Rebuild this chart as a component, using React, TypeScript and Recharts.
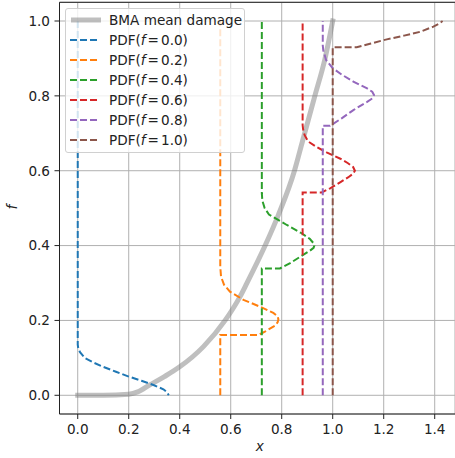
import React from 'react';
import { ComposedChart, Line, XAxis, YAxis, CartesianGrid, ReferenceLine, Label } from 'recharts';

// ---- data ----
const xTicks = [0, 0.2, 0.4, 0.6, 0.8, 1.0, 1.2, 1.4];
const yTicks = [0, 0.2, 0.4, 0.6, 0.8, 1.0];

const bmaX = [0, 0.1, 0.2, 0.235, 0.283, 0.34, 0.4, 0.493, 0.578, 0.636, 0.663, 0.735, 0.787, 0.85, 0.882, 0.93, 0.97, 1.0];
const bmaF = [0, 0, 0.003, 0.009, 0.028, 0.05, 0.076, 0.13, 0.2, 0.263, 0.299, 0.4, 0.482, 0.6, 0.68, 0.8, 0.9, 1.0];

const pdf00X = [0, 0, 0.002, 0.009, 0.029, 0.06, 0.1, 0.15, 0.2, 0.25, 0.297, 0.336, 0.35, 0.357];
const pdf00F = [1.0, 0.135, 0.126, 0.115, 0.099, 0.088, 0.076, 0.063, 0.05, 0.039, 0.0275, 0.016, 0.008, 0.0];

const pdf02X = [0.559, 0.559, 0.708, 0.734, 0.774, 0.784, 0.787, 0.784, 0.767, 0.721, 0.65, 0.597, 0.574, 0.562, 0.559, 0.559];
const pdf02F = [0, 0.161, 0.161, 0.17, 0.186, 0.195, 0.203, 0.211, 0.22, 0.235, 0.255, 0.277, 0.295, 0.317, 0.344, 1.0];

const pdf04X = [0.722, 0.722, 0.793, 0.833, 0.872, 0.91, 0.925, 0.928, 0.925, 0.91, 0.878, 0.82, 0.75, 0.733, 0.724, 0.722, 0.722];
const pdf04F = [0, 0.339, 0.339, 0.353, 0.37, 0.386, 0.394, 0.4, 0.406, 0.418, 0.433, 0.455, 0.483, 0.5, 0.52, 0.54, 1.0];

const pdf06X = [0.882, 0.882, 0.957, 0.99, 1.029, 1.06, 1.08, 1.087, 1.08, 1.06, 1.03, 0.976, 0.935, 0.904, 0.89, 0.884, 0.882, 0.882];
const pdf06F = [0, 0.542, 0.542, 0.553, 0.569, 0.582, 0.592, 0.6, 0.61, 0.62, 0.632, 0.649, 0.664, 0.678, 0.695, 0.71, 0.722, 1.0];

const pdf08X = [0.961, 0.961, 0.99, 1.035, 1.081, 1.135, 1.155, 1.162, 1.155, 1.135, 1.081, 1.035, 1.0, 0.974, 0.963, 0.961, 0.961];
const pdf08F = [0, 0.72, 0.72, 0.74, 0.762, 0.784, 0.793, 0.802, 0.811, 0.82, 0.838, 0.857, 0.874, 0.896, 0.922, 0.935, 1.0];

const pdf10X = [1.0, 1.0, 1.094, 1.15, 1.212, 1.28, 1.342, 1.395, 1.415, 1.431];
const pdf10F = [0, 0.93, 0.93, 0.94, 0.951, 0.961, 0.971, 0.985, 0.992, 1.0];

const seriesLabels = ['0.0', '0.2', '0.4', '0.6', '0.8', '1.0'];
const seriesColors = ['#1f77b4', '#ff7f0e', '#2ca02c', '#d62728', '#9467bd', '#8c564b'];

const toPts = (xs: number[], fs: number[]) => xs.map((x, i) => ({ x, f: fs[i] }));

const bmaData = toPts(bmaX, bmaF);
const pdfData = [
  toPts(pdf00X, pdf00F),
  toPts(pdf02X, pdf02F),
  toPts(pdf04X, pdf04F),
  toPts(pdf06X, pdf06F),
  toPts(pdf08X, pdf08F),
  toPts(pdf10X, pdf10F),
];

const FONT = 'DejaVu Sans';
const TXT = '#222';
const DASH = '7 3';

const XLabelContent = (props: any) => {
  const vb = props.viewBox || {};
  const cx = vb.x + (vb.width + 5) / 2;
  return (
    <text x={cx} y={451} textAnchor="middle" fontFamily={FONT} fontSize={13.6} fontStyle="italic" fill={TXT}>
      x
    </text>
  );
};

const YLabelContent = (props: any) => {
  const vb = props.viewBox || {};
  const cy = vb.y + vb.height / 2 - 1;
  return (
    <text x={17} y={cy} transform={`rotate(-90, 17, ${cy})`} textAnchor="middle" fontFamily={FONT} fontSize={13.6} fontStyle="italic" fill={TXT}>
      f
    </text>
  );
};

const LegendBox = () => (
  <div
    style={{
      position: 'absolute',
      left: 65,
      top: 8,
      width: 180,
      height: 145,
      boxSizing: 'border-box',
      border: '1px solid #d0d0d0',
      borderRadius: 3,
      background: 'rgba(255,255,255,0.8)',
      fontFamily: FONT,
      fontSize: 13.6,
      color: TXT,
    }}
  >
    <div style={{ position: 'absolute', left: 0, top: 12 - 10 - 1, height: 20, width: 178, display: 'flex', alignItems: 'center' }}>
      <svg width={40} height={20} style={{ position: 'absolute', left: 0, top: 0 }}>
        <line x1={7.5} y1={10} x2={32.5} y2={10} stroke="#808080" strokeOpacity={0.5} strokeWidth={5} strokeLinecap="square" />
      </svg>
      <span style={{ position: 'absolute', left: 43, whiteSpace: 'nowrap', lineHeight: '20px' }}>BMA mean damage</span>
    </div>
    {seriesLabels.map((lab, i) => (
      <div key={lab} style={{ position: 'absolute', left: 0, top: 12 + 20 * (i + 1) - 10 - 1, height: 20, width: 178 }}>
        <svg width={40} height={20} style={{ position: 'absolute', left: 0, top: 0 }}>
          <line x1={4} y1={10} x2={34} y2={10} stroke={seriesColors[i]} strokeWidth={2} strokeDasharray={DASH} />
        </svg>
        <span style={{ position: 'absolute', left: 43, whiteSpace: 'nowrap', lineHeight: '20px' }}>
          PDF(<span style={{ fontStyle: 'italic' }}>f</span>
          <span style={{ margin: '0 2px' }}>=</span>
          {lab})
        </span>
      </div>
    ))}
  </div>
);

export default function App() {
  return (
    <div style={{ position: 'absolute', left: 0, top: 0, width: 455, height: 458, background: '#fff' }}>
      <ComposedChart width={455} height={458} margin={{ top: 2.3, right: 0, bottom: 0, left: 0 }}>
        <CartesianGrid stroke="#b0b0b0" strokeWidth={1} />
        <XAxis
          type="number"
          dataKey="x"
          domain={[-0.0715, 1.4796]}
          allowDataOverflow
          ticks={xTicks}
          interval={0}
          tickFormatter={(v: number) => v.toFixed(1)}
          height={44}
          tickSize={5}
          tickMargin={5}
          axisLine={{ stroke: TXT, strokeWidth: 1 }}
          tickLine={{ stroke: TXT, strokeWidth: 1 }}
          tick={{ fontSize: 13.6, fill: TXT, fontFamily: FONT }}
        >
          <Label content={XLabelContent} />
        </XAxis>
        <YAxis
          type="number"
          domain={[-0.05, 1.05]}
          allowDataOverflow
          ticks={yTicks}
          interval={0}
          tickFormatter={(v: number) => v.toFixed(1)}
          width={59.5}
          tickSize={5}
          tickMargin={4.5}
          axisLine={{ stroke: TXT, strokeWidth: 1 }}
          tickLine={{ stroke: TXT, strokeWidth: 1 }}
          tick={{ fontSize: 13.6, fill: TXT, fontFamily: FONT }}
        >
          <Label content={YLabelContent} />
        </YAxis>
        <ReferenceLine y={1.05} stroke={TXT} strokeWidth={1} />
        <Line
          data={bmaData}
          dataKey="f"
          type="monotone"
          stroke="#808080"
          strokeOpacity={0.5}
          strokeWidth={5}
          strokeLinecap="square"
          strokeLinejoin="round"
          dot={false}
          activeDot={false}
          isAnimationActive={false}
        />
        {pdfData.map((d, i) => (
          <Line
            key={i}
            data={d}
            dataKey="f"
            type="linear"
            stroke={seriesColors[i]}
            strokeWidth={2}
            strokeDasharray={DASH}
            dot={false}
            activeDot={false}
            isAnimationActive={false}
          />
        ))}
      </ComposedChart>
      <LegendBox />
    </div>
  );
}
